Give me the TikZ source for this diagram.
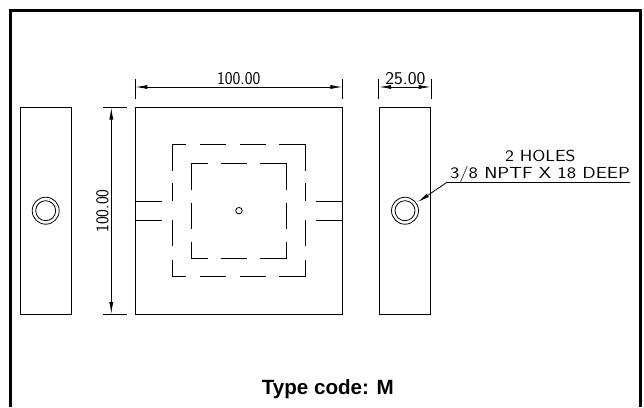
\documentclass[tikz,border=0pt]{standalone}
\usepackage{fontspec}
\usetikzlibrary{arrows.meta}
\newfontfamily\titlefont{Liberation Sans}

\begin{document}
\begin{tikzpicture}
[x=1pt, y=-1pt,
 line width=0.8pt,
 partbox/.style={draw, minimum width=#1, minimum height=206.5pt, inner sep=0pt},
 holebox/.style={draw, circle, minimum size=#1, inner sep=0pt},
 dimline/.style={{Latex[length=12pt,width=4pt]}-{Latex[length=12pt,width=4pt]}},
 cadlabel/.style={font=\sffamily\fontsize{#1}{#1}\selectfont, inner sep=0pt}]
\useasboundingbox (0,0) rectangle (644,407);

% Define the outer frame
\coordinate (frameBL) at (10.5,407);
\coordinate (frameTL) at (10.5,10.5);
\coordinate (frameTR) at (640.5,10.5);
\coordinate (frameBR) at (640.5,407);
\draw [line width=3.5pt] (frameBL) -- (frameTL) -- (frameTR) -- (frameBR);

% Define the three views
\node[partbox=51.5pt] (sideL) at (45.7,210.7) {};
\node[partbox=207pt] (front) at (238.8,210.7) {};
\node[partbox=51.5pt] (sideR) at (404.9,210.7) {};

% Define the holes
\node[holebox=27pt] (holeL) at (45.7,210.7) {};
\node[holebox=20pt] (boreL) at (45.7,210.7) {};
\node[holebox=27pt] (holeR) at (405,210.7) {};
\node[holebox=20pt] (boreR) at (405,210.7) {};
\node[holebox=6.5pt] (pin) at (239,210.7) {};

% Hidden edges of the outer pocket
\foreach \a/\b in {172.7/186, 200/226.3, 239.7/265.7, 279/305.3} {
  \draw (\a,144.3) -- (\b,144.3);
  \draw (\a,276.7) -- (\b,276.7);
}
\foreach \a/\b in {144.3/170.7, 183.3/201.3, 220/246.3, 259.7/276.7} {
  \draw (172.7,\a) -- (172.7,\b);
  \draw (305.3,\a) -- (305.3,\b);
}

% Hidden edges of the inner pocket
\foreach \a/\b in {191.3/207.7, 220.7/247, 260/286.7} {
  \draw (\a,163.3) -- (\b,163.3);
  \draw (\a,258) -- (\b,258);
}
\foreach \a/\b in {163.3/189.7, 202.7/229, 242.3/258} {
  \draw (191.3,\a) -- (191.3,\b);
  \draw (286.7,\a) -- (286.7,\b);
}

% Slots
\draw (front.west |- 0,201.3) -- (161.7,201.3);
\draw (front.west |- 0,220) -- (161.7,220);
\draw (316,201.3) -- (front.east |- 0,201.3);
\draw (316,220) -- (front.east |- 0,220);

% Extension lines
\draw (front.north west |- 0,79) -- (front.north west |- 0,99);
\draw (front.north east |- 0,79) -- (front.north east |- 0,99);
\draw (sideR.north west |- 0,79) -- (sideR.north west |- 0,99);
\draw (sideR.north east |- 0,79) -- (sideR.north east |- 0,99);
\draw (103,107.5) -- (127,107.5);
\draw (103,314) -- (127,314);

% Dimensions
\coordinate (widthL) at (135.3,87);
\coordinate (widthR) at (342.3,87);
\coordinate (depthL) at (379.2,87);
\coordinate (depthR) at (430.7,87);
\coordinate (heightT) at (111.3,107.5);
\coordinate (heightB) at (111.3,314);
\draw [dimline] (widthL) -- (widthR);
\draw [dimline] (depthL) -- (depthR);
\draw [dimline] (heightT) -- (heightB);
\node[cadlabel=18, anchor=base] (widthlabel) at (238.7,84) {\scalebox{0.92}[1]{100.00}};
\node[cadlabel=18, anchor=base] (depthlabel) at (405.3,84) {\scalebox{1.04}[1]{25.00}};
\node[cadlabel=18, rotate=90] (heightlabel) at (102.5,211) {\scalebox{0.92}[1]{100.00}};

% Leader and note
\coordinate (leaderE) at (630,182.5);
\coordinate (leaderB) at (446.7,182.5);
\draw [-{Latex[length=12pt,width=4pt]}, shorten >=1.5pt] (leaderE) -- (leaderB) -- (holeR);
\node[cadlabel=16, anchor=base] (noteA) at (540.3,161.3) {\scalebox{1.18}[1]{2 HOLES}};
\node[cadlabel=16, anchor=base] (noteB) at (540,178.8) {\scalebox{1.24}[1]{3/8 NPTF X 18 DEEP}};

% Type code
\node[font=\titlefont\bfseries\fontsize{20.6}{20.6}\selectfont, inner sep=0pt, anchor=base] (typecode) at (327.8,394.3) {Type code: M};
\end{tikzpicture}
\end{document}
